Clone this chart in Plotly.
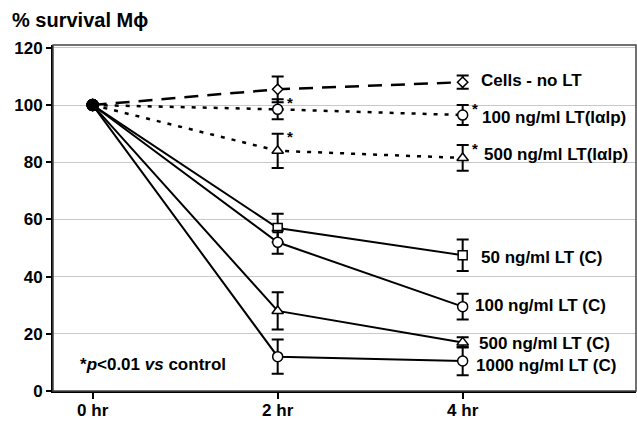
import plotly.graph_objects as go

x_labels = ["0 hr", "2 hr", "4 hr"]
x_pos = [0, 1, 2]

series_names = [
    "Cells - no LT",
    "100 ng/ml LT(lαlp)",
    "500 ng/ml LT(lαlp)",
    "50 ng/ml LT (C)",
    "100 ng/ml LT (C)",
    "500 ng/ml LT (C)",
    "1000 ng/ml LT (C)",
]
cells_no_lt = [100, 105.5, 108]
cells_no_lt_err = [0, 4.5, 2.3]
lt100_ialp = [100, 98.5, 96.5]
lt100_ialp_err = [0, 3.5, 3.5]
lt500_ialp = [100, 84, 81.5]
lt500_ialp_err = [0, 6, 4.5]
lt50_c = [100, 57, 47.5]
lt50_c_err = [0, 5, 5.5]
lt100_c = [100, 52, 29.5]
lt100_c_err = [0, 4, 4.5]
lt500_c = [100, 28, 17]
lt500_c_err = [0, 6.5, 1.8]
lt1000_c = [100, 12, 10.5]
lt1000_c_err = [0, 6, 5]

y_ticks = [0, 20, 40, 60, 80, 100, 120]

values = [cells_no_lt, lt100_ialp, lt500_ialp, lt50_c, lt100_c, lt500_c, lt1000_c]
errors = [cells_no_lt_err, lt100_ialp_err, lt500_ialp_err, lt50_c_err, lt100_c_err, lt500_c_err, lt1000_c_err]

# styles
dashes = ["14px,9px", "4px,7px", "4px,7px", "solid", "solid", "solid", "solid"]
widths = [2.5, 2.5, 2.5, 2, 2, 2, 2]
symbols = ["diamond", "circle", "triangle-up", "square", "circle", "triangle-up", "circle"]
msizes = [8, 10, 10, 9, 10, 10, 10]
label_shift = [(16, 2), (17, -2), (19, 3), (16, -2), (10, 1), (14, -1), (11, -5)]

FONT = "Liberation Sans, Arial, sans-serif"

fig = go.Figure()
for i, (name, v, e) in enumerate(zip(series_names, values, errors)):
    sym = symbols[i]
    fig.add_trace(go.Scatter(
        x=x_pos, y=v, name=name, mode="lines+markers",
        line=dict(color="black", width=widths[i], dash=dashes[i]),
        marker=dict(
            symbol=["circle", sym, sym],
            size=[11, msizes[i], msizes[i]],
            color=["#000000", "#ffffff", "#ffffff"],
            opacity=1,
            line=dict(color="black", width=1.5),
        ),
        error_y=dict(type="data", array=e, visible=True, color="black",
                     thickness=2, width=6),
        showlegend=False,
    ))
    fig.add_annotation(
        x=x_pos[-1], y=v[-1], xref="x", yref="y", text="<b>%s</b>" % name,
        showarrow=False, xanchor="left", yanchor="middle",
        xshift=label_shift[i][0], yshift=label_shift[i][1],
        font=dict(family=FONT, size=17, color="black"),
    )

# significance asterisks (lαlp series at 2 hr and 4 hr)
for v, e in [(lt100_ialp, lt100_ialp_err), (lt500_ialp, lt500_ialp_err)]:
    for j in [1, 2]:
        fig.add_annotation(
            x=x_pos[j], y=v[j] + e[j], xref="x", yref="y", text="<b>*</b>",
            showarrow=False, xanchor="center", yanchor="middle",
            xshift=12, yshift=-3,
            font=dict(family=FONT, size=15, color="black"),
        )

fig.add_annotation(
    x=0, y=9.3, xref="x", yref="y",
    text="<b>*<i>p</i>&lt;0.01 <i>vs</i> control</b>",
    showarrow=False, xanchor="left", yanchor="middle", xshift=-15,
    font=dict(family=FONT, size=17, color="black"),
)

# outer frame (top and right)
fig.add_shape(type="rect", xref="paper", yref="paper", x0=0, y0=0, x1=1, y1=1,
              line=dict(color="#444444", width=1.5), layer="above")

fig.update_layout(
    width=637, height=421,
    margin=dict(l=53, r=1, t=45, b=30, autoexpand=False),
    paper_bgcolor="white", plot_bgcolor="white",
    font=dict(family=FONT, color="black"),
    title=dict(text="<b>% survival Mϕ</b>", xref="container", yref="container",
               x=12 / 637, y=1 - 20 / 421, xanchor="left", yanchor="middle",
               font=dict(family=FONT, size=20, color="black")),
)
fig.update_xaxes(
    range=[-0.2146, 2.937], tickvals=x_pos, ticktext=["<b>%s</b>" % t for t in x_labels],
    showgrid=False, zeroline=False, showline=True, linecolor="black", linewidth=2,
    ticks="outside", ticklen=6, tickcolor="black", tickwidth=1.5, automargin=False,
    ticklabelstandoff=-3,
    tickfont=dict(family=FONT, size=17, color="black"),
)
fig.update_yaxes(
    range=[0, 121], tickvals=y_ticks, ticktext=["<b>%d</b>" % t for t in y_ticks],
    showgrid=True, gridcolor="#c8c8c8", gridwidth=1, zeroline=False,
    showline=True, linecolor="black", linewidth=2, automargin=False,
    ticks="outside", ticklen=5, tickcolor="black", tickwidth=1.5,
    tickfont=dict(family=FONT, size=17, color="black"),
)

fig.write_html("out.html", config={"displayModeBar": False},
               post_script="document.body.style.margin='0';document.body.style.overflow='hidden';")
